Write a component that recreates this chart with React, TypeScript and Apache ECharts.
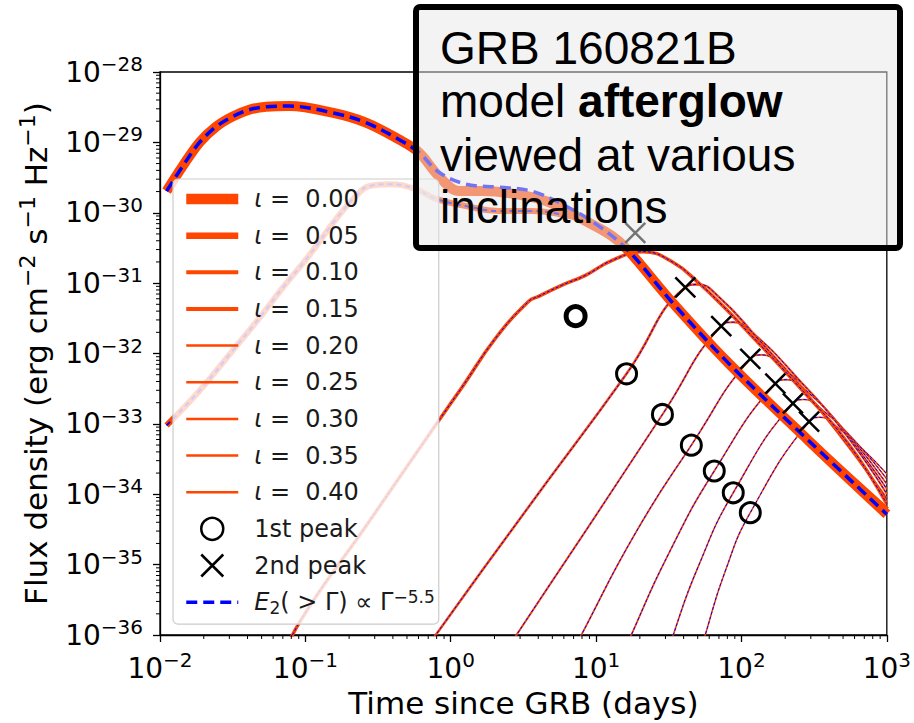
import React, { useEffect, useRef } from 'react';
import * as echarts from 'echarts';

// ---------- data ----------
const inclinations = ['0.00', '0.05', '0.10', '0.15', '0.20', '0.25', '0.30', '0.35', '0.40'];
const xTickExponents = ['−2', '−1', '0', '1', '2', '3'];
const yTickExponents = ['−36', '−35', '−34', '−33', '−32', '−31', '−30', '−29', '−28'];

// [time since GRB (days), flux density (erg cm^-2 s^-1 Hz^-1)]
const fluxI000 = [
  [0.0111, 2.03e-30], [0.0143, 4.57e-30], [0.0187, 9.98e-30], [0.0244, 1.68e-29], [0.0315, 2.32e-29],
  [0.0411, 2.91e-29], [0.0538, 3.21e-29], [0.0774, 3.28e-29], [0.153, 2.64e-29], [0.261, 1.91e-29],
  [0.44, 1.10e-29], [0.604, 7.21e-30], [0.828, 3.30e-30], [1.14, 2.03e-30], [1.63, 2.03e-30],
  [2.80, 1.84e-30], [4.72, 1.42e-30], [7.94, 8.18e-31], [12.8, 4.71e-31], [16.7, 2.89e-31],
  [32.9, 5.52e-32], [81.1, 7.36e-33], [288, 5.85e-34], [1000, 5.2e-35],
];
const fluxI000E2 = [
  [0.0111, 2.03e-30], [0.0143, 4.57e-30], [0.0187, 9.98e-30], [0.0244, 1.68e-29], [0.0315, 2.32e-29],
  [0.0411, 2.91e-29], [0.0538, 3.21e-29], [0.0774, 3.28e-29], [0.153, 2.64e-29], [0.261, 1.91e-29],
  [0.44, 1.10e-29], [0.604, 7.21e-30], [0.828, 3.77e-30], [1.27, 2.55e-30], [2.14, 2.31e-30],
  [3.61, 2.03e-30], [6.17, 1.25e-30], [10.4, 6.52e-31], [16.7, 2.89e-31], [32.9, 5.52e-32],
  [81.1, 7.36e-33], [288, 5.85e-34], [1000, 5.2e-35],
];
const fluxI005 = [
  [0.0111, 9.53e-34], [0.0187, 2.96e-33], [0.0315, 1.09e-32], [0.0482, 3.18e-32], [0.0693, 8.41e-32],
  [0.106, 2.46e-31], [0.163, 8.18e-31], [0.223, 1.73e-30], [0.274, 2.39e-30], [0.376, 2.55e-30],
  [0.575, 2.17e-30], [0.791, 1.57e-30], [1.27, 1.25e-30], [2.14, 1.06e-30], [3.61, 1.06e-30],
  [5.52, 9.62e-31], [7.94, 7.94e-31], [12.8, 4.56e-31], [16.7, 2.80e-31], [32.9, 5.35e-32],
  [81.1, 7.60e-33], [288, 6.24e-34], [1000, 6.03e-35],
];
const fluxI010 = [
  [0.0661, 3.44e-37], [0.0907, 1.49e-36], [0.274, 4.08e-35], [0.828, 1.12e-33], [1.19, 3.27e-33],
  [2.04, 1.66e-32], [3.44, 5.52e-32], [4.03, 6.49e-32], [5.79, 9.29e-32], [8.45, 1.29e-31],
  [12.8, 2.09e-31], [21.2, 2.80e-31], [34.0, 1.96e-31], [50.4, 1.02e-31], [74.9, 4.69e-32],
  [111, 2.02e-32], [245, 3.49e-33], [540, 5.31e-34], [1000, 7.32e-35],
];
const fluxI015 = [
  [0.708, 7.05e-37], [0.791, 1.01e-36], [3.44, 6.64e-35], [16.2, 5.15e-33], [41.1, 8.70e-32],
  [49.7, 9.59e-32], [69.2, 6.49e-32], [130, 1.61e-32], [336, 1.71e-33], [1000, 8.61e-35],
];
const fluxI020 = [
  [2.67, 8.02e-37], [2.84, 1.01e-36], [8.87, 3.47e-35], [28.6, 1.36e-33], [72.6, 2.45e-32],
  [87.7, 2.79e-32], [120, 1.95e-32], [245, 4.38e-33], [540, 6.45e-34], [1000, 1.01e-34],
];
const fluxI025 = [
  [7.57, 8.02e-37], [7.94, 1.01e-36], [18.9, 2.94e-35], [45.2, 4.98e-34], [115, 8.39e-33],
  [137, 9.56e-33], [187, 6.69e-33], [394, 1.50e-33], [1000, 1.19e-34],
];
const fluxI030 = [
  [16.7, 7.52e-37], [17.5, 1.01e-36], [31.4, 1.40e-35], [65.0, 2.14e-34], [171, 3.73e-33],
  [203, 4.24e-33], [278, 2.97e-33], [540, 7.11e-34], [1000, 1.40e-34],
];
const fluxI035 = [
  [33.0, 7.05e-37], [34.0, 1.01e-36], [50.5, 9.46e-36], [87.8, 1.05e-34], [226, 1.95e-33],
  [269, 2.22e-33], [370, 1.50e-33], [632, 5.14e-34], [1000, 1.65e-34],
];
const fluxI040 = [
  [54.6, 7.52e-37], [56.4, 1.01e-36], [77.3, 8.05e-36], [115, 5.47e-35], [292, 1.08e-33],
  [347, 1.24e-33], [476, 8.36e-34], [718, 3.96e-34], [1000, 1.94e-34],
];
const firstPeaks = [
  [7.23, 3.39e-32], [16.2, 5.15e-33], [28.6, 1.36e-33], [45.2, 4.98e-34], [65.0, 2.14e-34], [87.8, 1.05e-34], [115, 5.47e-35],
];
const secondPeaks = [
  [18.6, 5.19e-31], [41.1, 8.69e-32], [72.6, 2.45e-32], [115, 8.39e-33], [171, 3.72e-33], [226, 1.95e-33], [292, 1.08e-33],
];

// ---------- styles ----------
const ORANGE = '#ff4500';
const BLUE = '#0000ff';
const FONT = 'DejaVu Sans';
const plotWidths = [10, 6, 3.5, 2.5, 2, 1.8, 1.7, 1.6, 1.5];
const legendWidths = [10.5, 6.5, 4, 4, 2.5, 2.5, 2.5, 2.5, 2.5];
const blueWidths = [3.5, 2, 1, 1, 1, 1, 1, 1, 1];
const blueDashes = [[11, 6], [5, 4], [3, 2], [3, 2], [3, 2], [3, 2], [3, 2], [3, 2], [3, 2]];
const smoothness = [0.35, 0.45, 0.45, 0.5, 0.5, 0.5, 0.5, 0.5, 0.5];

const orangeCurves = [fluxI000, fluxI005, fluxI010, fluxI015, fluxI020, fluxI025, fluxI030, fluxI035, fluxI040];
const blueCurves = [fluxI000E2, fluxI005, fluxI010, fluxI015, fluxI020, fluxI025, fluxI030, fluxI035, fluxI040];

const lg = (pts: number[][]) => pts.map(([t, f]) => [t, Math.log10(f)]);

function buildOption() {
  const xMinor: number[][] = [];
  for (let k = -2; k <= 2; k++) for (let m = 2; m <= 9; m++) xMinor.push([m * Math.pow(10, k), -36]);
  const yMinor: number[][] = [];
  for (let k = -36; k <= -29; k++) for (let m = 2; m <= 9; m++) yMinor.push([0.01, k + Math.log10(m)]);

  const series: any[] = [];
  for (let i = 8; i >= 0; i--) {
    series.push({
      type: 'line', name: `ι = ${inclinations[i]}`, data: lg(orangeCurves[i]), symbol: 'none', showSymbol: false,
      smooth: smoothness[i], silent: true, lineStyle: { color: ORANGE, width: plotWidths[i] }, itemStyle: { color: ORANGE },
      emphasis: { disabled: true },
    });
    series.push({
      type: 'line', name: i === 0 ? 'E2' : `E2 ${inclinations[i]}`, data: lg(blueCurves[i]), symbol: 'none', showSymbol: false,
      smooth: smoothness[i], silent: true, lineStyle: { color: BLUE, width: blueWidths[i], type: blueDashes[i] }, itemStyle: { color: BLUE },
      emphasis: { disabled: true },
    });
  }
  series.push({
    type: 'scatter', name: '1st peak', silent: true, z: 5,
    data: lg(firstPeaks).map((p, i) => (i === 0 ? { value: p, symbolSize: 19, itemStyle: { borderWidth: 5 } } : p)),
    symbol: 'circle', symbolSize: 20,
    itemStyle: { color: 'rgba(0,0,0,0)', borderColor: '#000', borderWidth: 3, opacity: 1 },
  });
  series.push({
    type: 'scatter', name: '2nd peak', silent: true, z: 5, data: lg(secondPeaks),
    symbol: 'path://M0,0L20,20M20,0L0,20', symbolSize: 20,
    itemStyle: { color: 'rgba(0,0,0,0)', borderColor: '#000', borderWidth: 2.5, opacity: 1 },
  });
  series.push({
    type: 'custom', silent: true, z: 10, data: xMinor,
    renderItem: (_p: any, api: any) => {
      const c = api.coord([api.value(0), api.value(1)]);
      return { type: 'line', shape: { x1: c[0], y1: c[1], x2: c[0], y2: c[1] + 4 }, style: { stroke: '#000', lineWidth: 1 } };
    },
  });
  series.push({
    type: 'custom', silent: true, z: 10, data: yMinor,
    renderItem: (_p: any, api: any) => {
      const c = api.coord([api.value(0), api.value(1)]);
      return { type: 'line', shape: { x1: c[0] - 4, y1: c[1], x2: c[0], y2: c[1] }, style: { stroke: '#000', lineWidth: 1 } };
    },
  });

  const tickRich = {
    b: { fontFamily: FONT, fontSize: 28, lineHeight: 36, color: '#000' },
    e: { fontFamily: FONT, fontSize: 20, lineHeight: 16, verticalAlign: 'top', color: '#000' },
  };
  const legTxt = { fontFamily: FONT, fontSize: 24, lineHeight: 28, color: '#1a1a1a' };
  const annot = { fontFamily: 'Liberation Sans', fontSize: 46, fill: '#000' };

  return {
    animation: false,
    backgroundColor: '#fff',
    textStyle: { fontFamily: FONT },
    grid: { left: 160, top: 72, width: 729, height: 567, show: true, borderColor: '#000', borderWidth: 1.3, backgroundColor: 'transparent' },
    xAxis: {
      type: 'log', logBase: 10, min: 0.01, max: 1000,
      splitLine: { show: false },
      axisLine: { show: true, lineStyle: { color: '#000', width: 1.3 } },
      axisTick: { show: true, length: 7, lineStyle: { color: '#000', width: 1.3 } },
      axisLabel: { margin: 15, formatter: (_v: number, i: number) => `{b|10}{e|${xTickExponents[i]}}`, rich: tickRich },
      name: 'Time since GRB (days)', nameLocation: 'middle', nameGap: 52,
      nameTextStyle: { fontFamily: FONT, fontSize: 31, color: '#000' },
    },
    yAxis: {
      type: 'value', min: -36, max: -28, interval: 1,
      splitLine: { show: false },
      axisLine: { show: true, lineStyle: { color: '#000', width: 1.3 } },
      axisTick: { show: true, length: 7, lineStyle: { color: '#000', width: 1.3 } },
      axisLabel: { margin: 17, formatter: (_v: number, i: number) => `{b|10}{e|${yTickExponents[i]}}`, rich: tickRich },
      name: '{n|Flux density (erg cm}{e|−2}{n| s}{e|−1}{n| Hz}{e|−1}{n|)}',
      nameLocation: 'middle', nameRotate: 90, nameGap: 104,
      nameTextStyle: {
        rich: {
          n: { fontFamily: FONT, fontSize: 31, lineHeight: 40, color: '#000' },
          e: { fontFamily: FONT, fontSize: 22, lineHeight: 22, verticalAlign: 'top', color: '#000' },
        },
      },
    },
    legend: {
      orient: 'vertical', left: 173, top: 179, padding: [6, 4, 8, 8],
      itemWidth: 52, itemHeight: 22, itemGap: 8.65, selectedMode: false,
      backgroundColor: 'rgba(255,255,255,0.8)', borderColor: '#cccccc', borderWidth: 1.2, borderRadius: 5,
      textStyle: {
        ...legTxt,
        rich: {
          g: { width: 11 },
          n: legTxt,
          it: { ...legTxt, fontStyle: 'italic' },
          sub: { fontFamily: FONT, fontSize: 17, lineHeight: 20, verticalAlign: 'bottom', color: '#1a1a1a' },
          sup: { fontFamily: FONT, fontSize: 17, lineHeight: 12, verticalAlign: 'top', color: '#1a1a1a' },
        },
      },
      formatter: (name: string) => {
        if (name.startsWith('ι')) return `{g| }{it|ι}{n| =  ${name.split('= ')[1]}}`;
        if (name === 'E2') return '{g| }{it|E}{sub|2}{n|( > Γ) ∝ Γ}{sup|−5.5}';
        return `{g| }{n|${name}}`;
      },
      data: [
        ...inclinations.map((inc, i) => ({ name: `ι = ${inc}`, lineStyle: { width: legendWidths[i] }, itemStyle: { opacity: 0 } })),
        { name: '1st peak', itemStyle: { borderWidth: 2.5, opacity: 1 } },
        { name: '2nd peak', itemStyle: { borderWidth: 2.5, opacity: 1 } },
        { name: 'E2', lineStyle: { width: 3.5 }, itemStyle: { opacity: 0 } },
      ],
    },
    graphic: [
      { type: 'rect', z: 100, shape: { x: 416, y: 7, width: 484, height: 241, r: 4 }, style: { fill: 'rgba(232,232,232,0.5)', stroke: '#000', lineWidth: 6 } },
      { type: 'text', z: 101, x: 440, y: 48, style: { ...annot, text: 'GRB 160821B', verticalAlign: 'middle' } },
      {
        type: 'text', z: 101, x: 440, y: 101,
        style: {
          text: '{n|model }{b|afterglow}', verticalAlign: 'middle',
          rich: { n: { ...annot }, b: { ...annot, fontWeight: 'bold' } },
        },
      },
      { type: 'text', z: 101, x: 440, y: 155, style: { ...annot, text: 'viewed at various', verticalAlign: 'middle' } },
      { type: 'text', z: 101, x: 440, y: 207, style: { ...annot, text: 'inclinations', verticalAlign: 'middle' } },
    ],
    series,
  };
}

export default function App() {
  const ref = useRef<HTMLDivElement>(null);
  useEffect(() => {
    const chart = echarts.init(ref.current as HTMLDivElement, null, { renderer: 'svg' });
    chart.setOption(buildOption() as any);
    return () => chart.dispose();
  }, []);
  return <div ref={ref} style={{ position: 'fixed', left: 0, top: 0, width: 914, height: 723, background: '#fff' }} />;
}
